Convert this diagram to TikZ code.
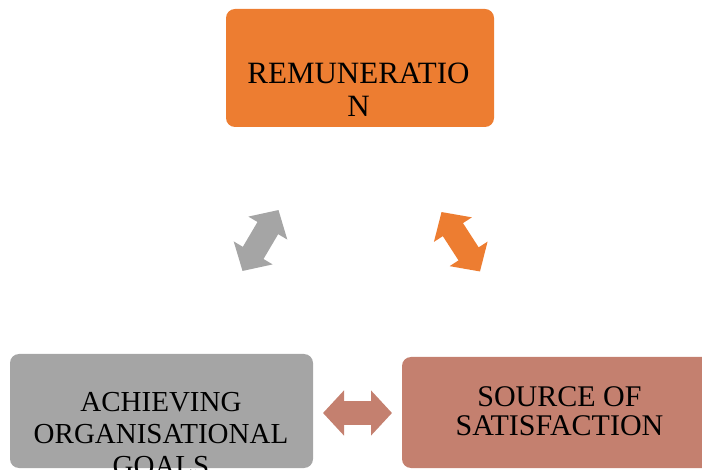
\documentclass[tikz,border=0pt]{standalone}
\usepackage{fontspec}
\setmainfont{Liberation Serif}
\usetikzlibrary{arrows.meta}
\definecolor{remuorange}{HTML}{ED7D31}
\definecolor{goalgray}{HTML}{A5A5A5}
\definecolor{satisred}{HTML}{C4806F}
\begin{document}
\begin{tikzpicture}[
          x=1pt, y=-1pt,
          box/.style={rounded corners=9pt, inner sep=0pt},
          lbl/.style={align=center, inner sep=0pt},
          link/.style={line width=24pt, {Triangle[length=21pt,width=44pt]}-{Triangle[length=21pt,width=44pt]}}
        ]
        \useasboundingbox (0,0) rectangle (702,470);
        \clip (0,0) rectangle (702,470);
        \node[box, fill=remuorange, minimum width=268pt, minimum height=118pt] (remu) at (360,68) {};
        \node[box, fill=goalgray, minimum width=303pt, minimum height=114pt] (goals) at (161.5,411) {};
        \node[box, fill=satisred, minimum width=312pt, minimum height=111pt] (satis) at (558,412.5) {};
        \node[lbl, font=\fontsize{31}{33}\selectfont] (remutext) at (358.5,89.5) {REMUNERATIO\\N};
        \node[lbl, font=\fontsize{29}{32}\selectfont] (goalstext) at (161,434.5) {ACHIEVING\\ORGANISATIONAL\\GOALS};
        \node[lbl, font=\fontsize{30}{29.5}\selectfont] (satistext) at (559.5,411) {SOURCE OF\\SATISFACTION};
        \coordinate (gl) at (242.5,271);
        \coordinate (gu) at (278.5,210);
        \coordinate (ou) at (441.5,212);
        \coordinate (ol) at (480,271.5);
        \coordinate (sl) at (323,413);
        \coordinate (sr) at (392,413);
        \draw[link, goalgray] (gl) -- (gu);
        \draw[link, remuorange] (ou) -- (ol);
        \draw[link, satisred] (sl) -- (sr);
\end{tikzpicture}
\end{document}
